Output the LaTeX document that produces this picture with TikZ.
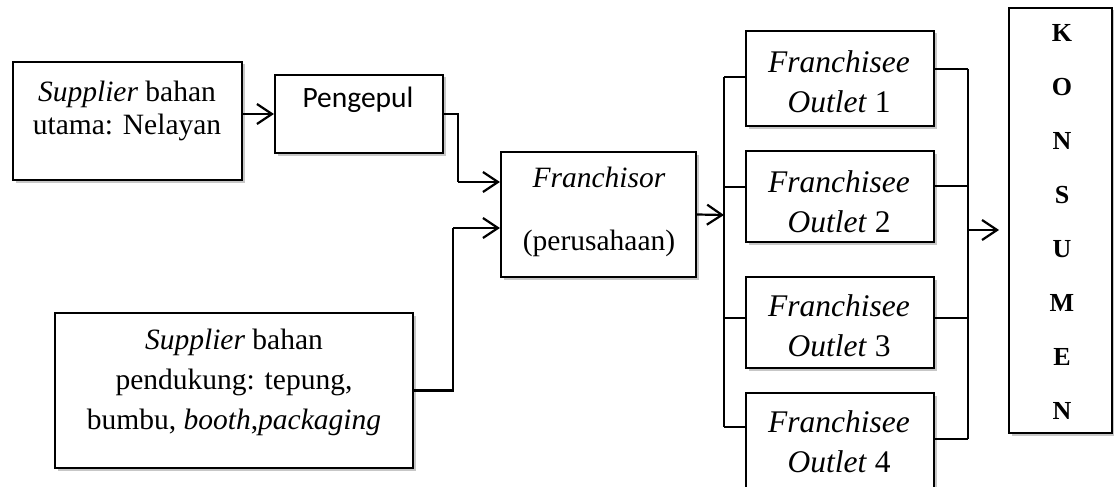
\documentclass[tikz,border=0pt]{standalone}
\usepackage{fontspec}
\setmainfont{Liberation Serif}
\newfontfamily\calib{Carlito}
\usetikzlibrary{arrows.meta,shadows}
\begin{document}
\begin{tikzpicture}[x=1pt,y=-1pt,
  box/.style={draw,line width=2.2pt,fill=white,inner sep=0pt,
    drop shadow={shadow xshift=2.5pt,shadow yshift=-2.5pt,fill=black,opacity=0.22}},
  txt/.style={align=center,inner sep=0pt,font=\fontsize{29.5}{40}\selectfont},
  otxt/.style={align=center,inner sep=0pt,font=\fontsize{31.5}{40}\selectfont},
  ln/.style={line width=2.2pt},
  arr/.style={line width=2.2pt,-{Straight Barb[length=15pt,width=20pt,line width=2.2pt]}}]
\useasboundingbox (0,0) rectangle (1114,487);

% boxes
\node[box,minimum width=229pt,minimum height=118pt] (sup1) at (127.5,121) {};
\node[box,minimum width=168pt,minimum height=78pt] (peng) at (359,114) {};
\node[box,minimum width=195pt,minimum height=125pt] (fr) at (598.5,214.5) {};
\node[box,minimum width=358pt,minimum height=155pt] (sup2) at (234,390.5) {};
\node[box,minimum width=188pt,minimum height=95pt] (o1) at (840,78.5) {};
\node[box,minimum width=188pt,minimum height=91pt] (o2) at (840,196.5) {};
\node[box,minimum width=188pt,minimum height=91pt] (o3) at (840,322.5) {};
\node[box,minimum width=188pt,minimum height=104pt] (o4) at (840,445) {};
\node[box,minimum width=103pt,minimum height=425pt] (kon) at (1060.5,220.5) {};

% texts
\node[txt,font=\fontsize{29.5}{33}\selectfont] (t1) at (127,111) {\textit{Supplier} bahan\\utama: Nelayan};
\node[txt,font=\calib\fontsize{29.5}{33}\selectfont] (tp) at (358,100) {Pengepul};
\node[txt,font=\fontsize{29.5}{63}\selectfont] (tf) at (599,212) {\textit{Franchisor}\\(perusahaan)};
\node[txt] (t3) at (234,382) {\textit{Supplier} bahan\\pendukung: tepung,\\bumbu, \textit{booth},\textit{packaging}};
\node[otxt] (to1) at (839,82) {\textit{Franchisee}\\\textit{Outlet} 1};
\node[otxt] (to2) at (839,202) {\textit{Franchisee}\\\textit{Outlet} 2};
\node[otxt] (to3) at (839,326) {\textit{Franchisee}\\\textit{Outlet} 3};
\node[otxt] (to4) at (839,442) {\textit{Franchisee}\\\textit{Outlet} 4};
\node[align=center,inner sep=0pt,font=\bfseries\fontsize{26}{54}\selectfont] (tk) at (1062,222) {K\\O\\N\\S\\U\\M\\E\\N};

% connector coordinates
\coordinate (j1) at (458,182);
\coordinate (j2) at (453,228);
\coordinate (b0) at (724,215);
\coordinate (l1) at (724,77);
\coordinate (l2) at (724,187);
\coordinate (l3) at (724,318);
\coordinate (l4) at (724,427);
\coordinate (r1) at (968,69);
\coordinate (r2) at (968,186);
\coordinate (r3) at (968,318);
\coordinate (r4) at (968,439);
\coordinate (r0) at (968,230);
\coordinate (r5) at (999,230);

% connectors
\draw[arr] (peng.west -| sup1.east) -- (peng.west);
\draw[ln] (peng.east) -| (j1);
\draw[arr] (j1) -- (j1 -| fr.west);
\draw[ln] (sup2.east) -| (j2);
\draw[arr] (j2) -- (j2 -| fr.west);
\draw[arr] (fr.east) -- (b0);
\draw[ln] (l1) -- (l4);
\draw[ln] (l1) -- (l1 -| o1.west);
\draw[ln] (l2) -- (l2 -| o2.west);
\draw[ln] (l3) -- (l3 -| o3.west);
\draw[ln] (l4) -- (l4 -| o4.west);
\draw[ln] (r1) -- (r4);
\draw[ln] (r1 -| o1.east) -- (r1);
\draw[ln] (r2 -| o2.east) -- (r2);
\draw[ln] (r3 -| o3.east) -- (r3);
\draw[ln] (r4 -| o4.east) -- (r4);
\draw[arr] (r0) -- (r5);
\end{tikzpicture}
\end{document}
